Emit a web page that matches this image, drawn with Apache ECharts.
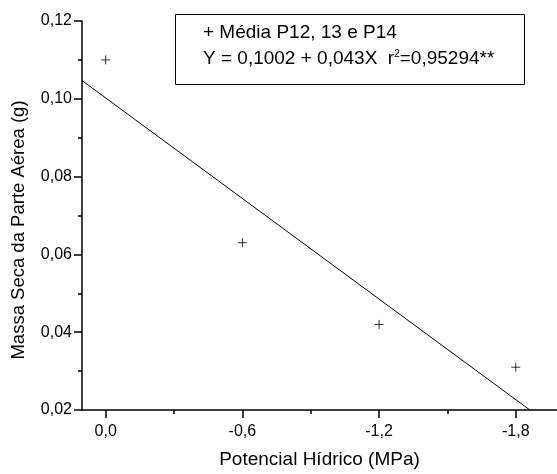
<!DOCTYPE html>
<html>
<head>
<meta charset="utf-8">
<script src="https://cdn.jsdelivr.net/npm/echarts@6/dist/echarts.min.js"></script>
<style>html,body{margin:0;padding:0;background:#fff}#c{width:557px;height:474px}</style>
</head>
<body>
<div id="c"></div>
<script>
var potencial = [0, -0.6, -1.2, -1.8];
var massa = [0.110, 0.063, 0.042, 0.031];
var fitX = [0.104, -1.862];
var fitY = [0.1047, 0.02];
var xTickMajor = [0, -0.6, -1.2, -1.8];
var xTickMinor = [-0.3, -0.9, -1.5];
var xTitle = 'Potencial Hídrico (MPa)';
var yTitle = 'Massa Seca da Parte Aérea (g)';
var legendLine1 = '+ Média P12, 13 e P14';
var legendLine2a = 'Y = 0,1002 + 0,043X  r';
var legendLine2b = '=0,95294**';

var font = 'Liberation Sans, Arial, sans-serif';
var chart = echarts.init(document.getElementById('c'));
function zip(a, b) { return a.map(function (v, i) { return [v, b[i]]; }); }
var xCommon = {
  type: 'value', inverse: true, min: -1.981, max: 0.104,
  splitLine: { show: false }
};
chart.setOption({
  animation: false,
  backgroundColor: '#fff',
  grid: { left: 82, top: 21, width: 475, height: 394, containLabel: false },
  xAxis: [
    Object.assign({}, xCommon, {
      name: xTitle, nameLocation: 'middle', nameGap: 40,
      nameTextStyle: { fontFamily: font, fontSize: 19, color: '#000' },
      axisLine: { show: true, onZero: false, lineStyle: { color: '#000', width: 1.5 } },
      axisTick: { show: true, length: 8, lineStyle: { color: '#000', width: 1.5 }, customValues: xTickMajor },
      axisLabel: { show: true, margin: 14, fontFamily: font, fontSize: 16, color: '#000', customValues: xTickMajor,
        formatter: function (v) { return v.toFixed(1).replace('.', ','); } }
    }),
    Object.assign({}, xCommon, {
      position: 'bottom', offset: 0,
      axisLine: { show: false },
      axisTick: { show: true, length: 4, lineStyle: { color: '#000', width: 1.5 }, customValues: xTickMinor },
      axisLabel: { show: false }
    })
  ],
  yAxis: {
    type: 'value', min: 0.02, max: 0.12, interval: 0.02,
    splitLine: { show: false },
    axisLine: { show: true, onZero: false, lineStyle: { color: '#000', width: 1.5 } },
    axisTick: { show: true, length: 8, lineStyle: { color: '#000', width: 1.5 } },
    minorTick: { show: true, splitNumber: 2, length: 4, lineStyle: { color: '#000', width: 1.5 } },
    axisLabel: { margin: 10, fontFamily: font, fontSize: 16, color: '#000',
      formatter: function (v) { return v.toFixed(2).replace('.', ','); } }
  },
  series: [
    {
      type: 'line', data: zip(fitX, fitY), symbol: 'none',
      lineStyle: { color: '#000', width: 1 }, silent: true
    },
    {
      type: 'scatter', data: zip(potencial, massa),
      symbol: 'path://M0,5L10,5M5,0L5,10', symbolSize: 9,
      itemStyle: { color: 'none', borderColor: '#000', borderWidth: 1 }
    }
  ],
  graphic: [
    { type: 'text', x: 18.5, y: 230, rotation: Math.PI / 2, z: 11,
      style: { text: yTitle, font: '18.5px ' + font, fill: '#000', align: 'center', verticalAlign: 'middle' } },
    { type: 'rect', shape: { x: 175.5, y: 14.5, width: 349, height: 70 },
      style: { fill: '#fff', stroke: '#000', lineWidth: 1 }, z: 10 },
    { type: 'text', x: 203, y: 33, z: 11,
      style: { text: legendLine1, font: '19px ' + font, fill: '#000', verticalAlign: 'middle' } },
    { type: 'text', x: 203, y: 59, z: 11,
      style: { text: '{n|' + legendLine2a + '}{s|2}{n|' + legendLine2b + '}', verticalAlign: 'middle',
        rich: {
          n: { fontFamily: font, fontSize: 19, fill: '#000', lineHeight: 22 },
          s: { fontFamily: font, fontSize: 10, fill: '#000', padding: [0, 0, 10, 0], lineHeight: 22 }
        } } }
  ]
});
</script>
</body>
</html>
